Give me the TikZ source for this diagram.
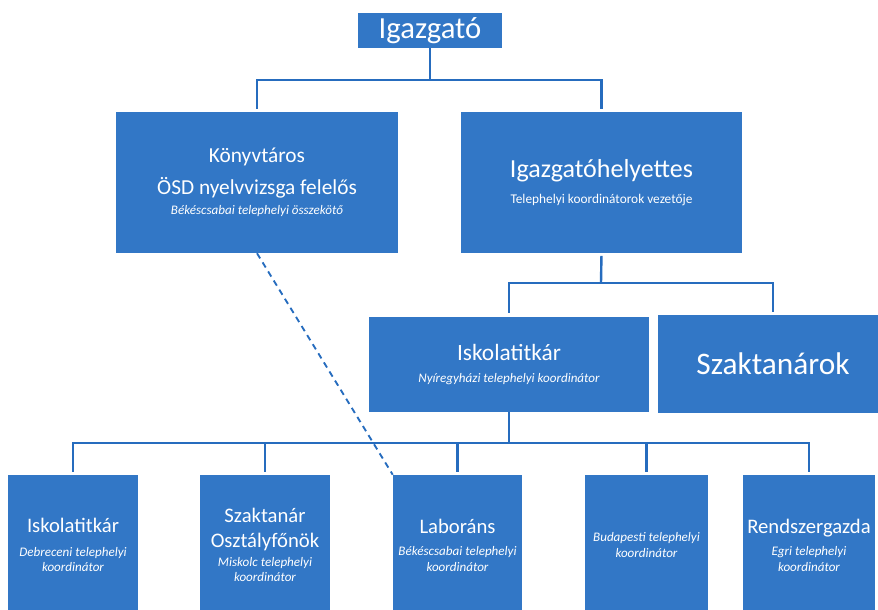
\documentclass[tikz,border=0pt]{standalone}
\usepackage{fontspec}
\setmainfont{Carlito}
\usetikzlibrary{positioning}

\definecolor{orgblue}{RGB}{50,119,198}
\definecolor{linkblue}{RGB}{38,108,190}

\def\px{0.75pt}
\newcommand{\sz}[1]{\fontsize{#1}{1.2\dimexpr #1pt\relax}\selectfont}
\newcommand{\subfont}{\fontsize{9.8}{10.5}\selectfont\itshape}

\begin{document}
\begin{tikzpicture}[x=0.75pt, y=-0.75pt]

        \tikzset{
            orgbox/.style={fill=orgblue, text=white, align=center, inner sep=0pt},
            link/.style={draw=linkblue, line width=1.8pt},
            dotlink/.style={draw=linkblue, line width=1.4pt, dash pattern=on 4.5pt off 3.5pt}
        }

        \useasboundingbox (0,0) rectangle (878,610);

        % top levels
        \node[orgbox, minimum width=144*\px, minimum height=35*\px] (igazgato) at (430,30.5)
        {\sz{23}Igazgató};
        \node[orgbox, minimum width=282*\px, minimum height=141*\px] (konyvtaros) at (257,182.5)
        {\sz{16}Könyvtáros\\[7pt]\sz{16}ÖSD nyelvvizsga felelős\\[3.5pt]\subfont Békéscsabai telephelyi összekötő};
        \node[orgbox, minimum width=281*\px, minimum height=141*\px] (helyettes) at (601.5,182.5)
        {\sz{19.5}Igazgatóhelyettes\\[7pt]\sz{10}Telephelyi koordinátorok vezetője};
        \node[orgbox, minimum width=280*\px, minimum height=95*\px] (titkar) at (509,364.5)
        {\sz{17.5}Iskolatitkár\\[5pt]\subfont Nyíregyházi telephelyi koordinátor};
        \node[orgbox, minimum width=230*\px, minimum height=98*\px] (szaktanarok) at (773,364)
        {\sz{23.5}Szaktanárok};

        % bottom row
        \node[orgbox, minimum width=130*\px, minimum height=140*\px] (b1) at (73,545)
        {\sz{15.5}Iskolatitkár\\[6pt]\subfont Debreceni telephelyi\\[-0.5pt]\subfont koordinátor};
        \node[orgbox, minimum width=130*\px, minimum height=140*\px] (b2) at (265,545)
        {\sz{15.5}Szaktanár\\[7pt]\sz{15.5}Osztályfőnök\\[2pt]\subfont Miskolc telephelyi\\[-0.5pt]\subfont koordinátor};
        \node[orgbox, minimum width=129*\px, minimum height=140*\px] (b3) at (457.5,545)
        {\sz{15.5}Laboráns\\[5pt]\subfont Békéscsabai telephelyi\\[-0.5pt]\subfont koordinátor};
        \node[orgbox, minimum width=123*\px, minimum height=140*\px] (b4) at (646.5,545)
        {\subfont Budapesti telephelyi\\[-0.5pt]\subfont koordinátor};
        \node[orgbox, minimum width=132*\px, minimum height=140*\px] (b5) at (809,545)
        {\sz{15.5}Rendszergazda\\[5pt]\subfont Egri telephelyi\\[-0.5pt]\subfont koordinátor};

        % bus points
        \coordinate (bustop) at (430,80);
        \coordinate (busmid) at (601,283);
        \coordinate (buslow) at (509,443);

        \begin{scope}[link]
            \draw (igazgato.south) -- (bustop);
            \draw[shorten >=2pt] (bustop) -| (konyvtaros.north);
            \draw[shorten >=2pt] (bustop) -| (helyettes.north);

            \draw[shorten <=2pt] (helyettes.south) -- (busmid);
            \draw[shorten >=3pt] (busmid) -| (titkar.north);
            \draw[shorten >=2pt] (busmid) -| (szaktanarok.north);

            \draw (titkar.south) -- (buslow);
            \foreach\x in {1,...,5}
            \draw[shorten >=2pt] (buslow) -| (b\x.north);
        \end{scope}

        \draw[dotlink] (konyvtaros.south) -- (b3.north west);

\end{tikzpicture}
\end{document}
